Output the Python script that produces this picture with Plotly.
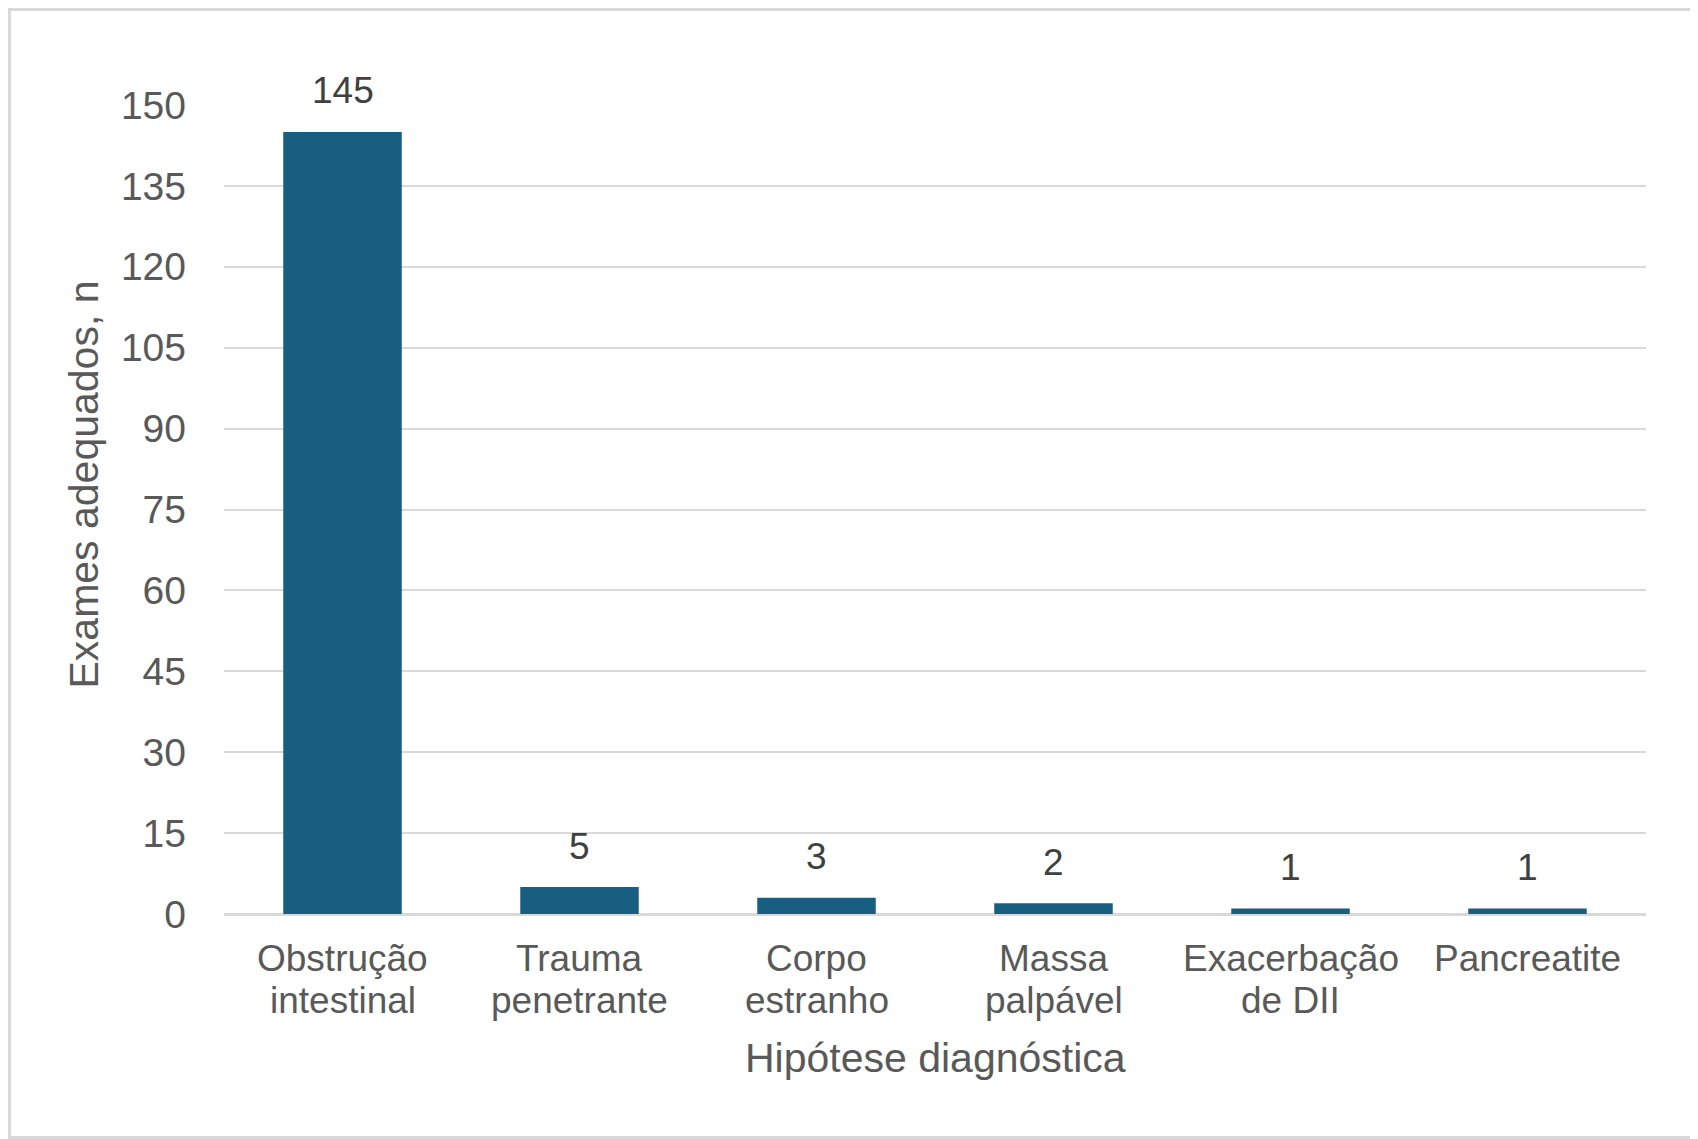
import plotly.graph_objects as go

categories = ["Obstrução intestinal", "Trauma penetrante", "Corpo estranho",
              "Massa palpável", "Exacerbação de DII", "Pancreatite"]
label_lines = [["Obstrução", "intestinal"], ["Trauma", "penetrante"], ["Corpo", "estranho"],
               ["Massa", "palpável"], ["Exacerbação", "de DII"], ["Pancreatite"]]
values = [145, 5, 3, 2, 1, 1]
y_ticks = [0, 15, 30, 45, 60, 75, 90, 105, 120, 135, 150]

# page body adds ~8px offset, so the figure is a bit smaller than the window
W, H = 1690, 1131
L, R, T, B = 216, 52, 97, 225
pw, ph = W - L - R, H - T - B

font_family = "Liberation Sans, Arial, sans-serif"
grey = "#595959"

fig = go.Figure()
fig.add_trace(go.Bar(x=categories, y=values, marker_color="#185E81",
                     marker_line_width=0, hoverinfo="x+y"))

# data labels above the bars
for c, v in zip(categories, values):
    fig.add_annotation(x=c, y=v, text=str(v), showarrow=False, yanchor="middle",
                       yshift=41, font=dict(family=font_family, size=37, color="#404040"))

# category labels (tighter line spacing than plotly's tick labels)
for c, lines in zip(categories, label_lines):
    for i, line in enumerate(lines):
        fig.add_annotation(x=c, y=0, text=line, showarrow=False, yanchor="middle",
                           yshift=-44 - 42 * i, font=dict(family=font_family, size=37, color=grey))

# axis titles
fig.add_annotation(xref="paper", yref="paper", x=0.5, y=0, text="Hipótese diagnóstica",
                   showarrow=False, yanchor="middle", yshift=-144,
                   font=dict(family=font_family, size=41, color=grey))
fig.add_annotation(xref="paper", yref="paper", x=0, y=0.5, text="Exames adequados, n",
                   showarrow=False, textangle=-90, xanchor="center", yanchor="middle",
                   xshift=-141, yshift=25, font=dict(family=font_family, size=41, color=grey))

# light frame around the whole picture
fig.add_shape(type="rect", xref="paper", yref="paper",
              x0=(1.5 - L) / pw, x1=(W - 1.5 - L) / pw,
              y0=(H - B - (H - 1.5)) / ph, y1=(H - B - 1.5) / ph,
              line=dict(color="#d9d9d9", width=3), fillcolor="rgba(0,0,0,0)", layer="below")

fig.update_layout(
    width=W, height=H,
    margin=dict(l=L, r=R, t=T, b=B, autoexpand=False),
    plot_bgcolor="white", paper_bgcolor="white",
    bargap=0.5, showlegend=False,
    font=dict(family=font_family, color=grey),
)
fig.update_xaxes(showticklabels=False, ticks="", showline=False, showgrid=False)
fig.update_yaxes(range=[0, 150], tickmode="array", tickvals=y_ticks,
                 tickfont=dict(size=39, color=grey), ticks="", ticklabelstandoff=37,
                 showgrid=True, gridcolor="#d9d9d9", gridwidth=2,
                 zeroline=True, zerolinecolor="#d9d9d9", zerolinewidth=3, showline=False)

fig.write_html("out.html")
